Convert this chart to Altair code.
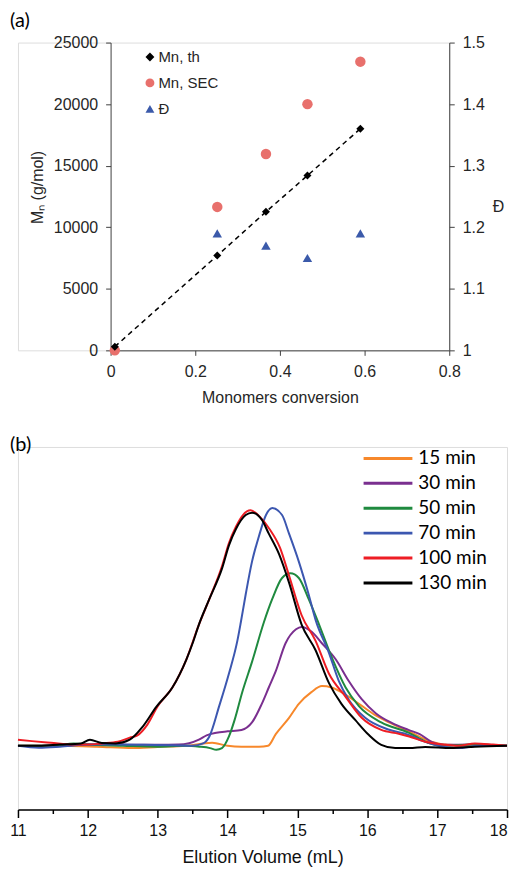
import altair as alt
import pandas as pd

# ---------------- panel (a) data ----------------
CONV_TH = [0.01, 0.252, 0.367, 0.465, 0.59]
MN_TH = [300, 7700, 11250, 14200, 18000]
CONV_SEC = [0.01, 0.252, 0.367, 0.465, 0.59]
MN_SEC = [0, 11650, 15950, 20000, 23450]
CONV_D = [0.252, 0.367, 0.465, 0.59]
DISP = [1.19, 1.17, 1.15, 1.19]
SERIES_A = ["Mn, th", "Mn, SEC", "Đ"]
COLORS_A = ["#000000", "#e8706c", "#3b5aaa"]
SHAPES_A = ["diamond", "circle", "triangle-up"]
X_TICKS_A = [0, 0.2, 0.4, 0.6, 0.8]
Y_TICKS_L = [0, 5000, 10000, 15000, 20000, 25000]
Y_TICKS_R = [1, 1.1, 1.2, 1.3, 1.4, 1.5]

# ---------------- panel (b) data ----------------
V_15 = [11.0, 11.5, 12.13, 12.64, 13.0, 13.4, 13.78, 14.0, 14.2, 14.45, 14.58, 14.69, 14.88,
        15.02, 15.2, 15.35, 15.49, 15.63, 15.88, 16.12, 16.35, 16.63, 16.92, 17.1, 17.5, 18.0]
I_15 = [0.0, 0.0, -0.004, -0.01, -0.005, 0.0, 0.013, 0.0, -0.004, -0.004, 0.0, 0.05, 0.12,
        0.18, 0.23, 0.256, 0.25, 0.23, 0.18, 0.13, 0.095, 0.056, 0.017, 0.005, 0.0, 0.0]

V_30 = [11.0, 11.5, 12.0, 12.5, 13.0, 13.3, 13.59, 13.7, 13.84, 14.0, 14.2, 14.35, 14.49, 14.59,
        14.69, 14.83, 14.98, 15.06, 15.2, 15.35, 15.55, 15.73, 15.92, 16.12, 16.35, 16.59, 16.75,
        16.92, 17.1, 17.5, 18.0]
I_30 = [0.0, 0.0, 0.005, 0.005, 0.004, 0.005, 0.026, 0.045, 0.056, 0.062, 0.068, 0.10, 0.18, 0.25,
        0.32, 0.44, 0.50, 0.51, 0.49, 0.44, 0.37, 0.28, 0.20, 0.14, 0.098, 0.068, 0.05,
        0.017, 0.004, 0.005, 0.0]

V_50 = [11.0, 11.5, 11.8, 12.0, 12.5, 13.0, 13.4, 13.6, 13.75, 13.84, 13.92, 14.02, 14.1, 14.21,
        14.35, 14.52, 14.64, 14.78, 14.9, 15.02, 15.16, 15.31, 15.49, 15.69, 15.88, 16.2, 16.59,
        16.73, 16.87, 17.1, 17.5, 18.0]
I_50 = [0.0, 0.0, 0.01, 0.005, 0.0, -0.004, 0.0, -0.004, -0.01, -0.017, -0.01, 0.04, 0.11, 0.23,
        0.36, 0.53, 0.63, 0.72, 0.74, 0.72, 0.63, 0.52, 0.38, 0.25, 0.17, 0.10, 0.056,
        0.034, 0.013, 0.0, 0.005, 0.0]

V_70 = [11.0, 11.3, 11.6, 12.0, 12.4, 12.8, 13.2, 13.5, 13.65, 13.74, 13.88, 14.02, 14.14, 14.19,
        14.26, 14.35, 14.45, 14.55, 14.64, 14.78, 14.88, 15.02, 15.16, 15.26, 15.45, 15.59, 15.73,
        15.97, 16.3, 16.59, 16.8, 17.02, 17.3, 17.6, 18.0]
I_70 = [0.0, -0.008, -0.004, 0.005, 0.005, 0.004, 0.002, 0.0, 0.01, 0.04, 0.17, 0.31, 0.45, 0.53,
        0.65, 0.79, 0.90, 0.99, 1.02, 0.99, 0.91, 0.79, 0.65, 0.54, 0.40, 0.28, 0.20,
        0.12, 0.07, 0.047, 0.02, 0.0, -0.01, 0.0, 0.0]

V_100 = [11.0, 11.2, 11.47, 11.8, 12.0, 12.2, 12.43, 12.6, 12.71, 12.85, 13.0, 13.21, 13.41, 13.59,
         13.74, 13.92, 14.02, 14.12, 14.22, 14.33, 14.47, 14.6, 14.75, 14.88, 15.06, 15.26, 15.45,
         15.69, 15.92, 16.2, 16.45, 16.6, 16.83, 17.12, 17.3, 17.54, 17.8, 18.0]
I_100 = [0.026, 0.02, 0.013, 0.005, 0.005, 0.01, 0.017, 0.035, 0.045, 0.09, 0.17, 0.25, 0.37, 0.52,
         0.63, 0.77, 0.87, 0.94, 0.99, 1.01, 0.98, 0.93, 0.85, 0.73, 0.56, 0.45, 0.31,
         0.21, 0.12, 0.068, 0.052, 0.04, 0.017, 0.004, 0.0, 0.01, 0.005, 0.0]

V_130 = [11.0, 11.3, 11.6, 11.9, 12.03, 12.2, 12.4, 12.6, 12.78, 12.98, 13.21, 13.41, 13.5, 13.59,
         13.74, 13.92, 14.02, 14.12, 14.26, 14.35, 14.49, 14.59, 14.74, 14.88, 15.06, 15.26, 15.45,
         15.63, 15.83, 16.02, 16.2, 16.4, 16.6, 16.83, 17.2, 17.54, 18.0]
I_130 = [0.0, 0.0, 0.005, 0.01, 0.026, 0.012, 0.01, 0.026, 0.08, 0.167, 0.25, 0.37, 0.44, 0.52,
         0.63, 0.76, 0.86, 0.93, 0.99, 1.0, 0.97, 0.91, 0.82, 0.70, 0.52, 0.41, 0.27,
         0.18, 0.11, 0.047, 0.004, -0.01, -0.01, -0.005, -0.01, -0.004, 0.0]

LABELS_B = ["15 min", "30 min", "50 min", "70 min", "100 min", "130 min"]
COLORS_B = ["#f7882b", "#7a2f8f", "#1f8a3f", "#3c57b0", "#ee1d24", "#000000"]
X_TICKS_B = [11, 11.5, 12, 12.5, 13, 13.5, 14, 14.5, 15, 15.5, 16, 16.5, 17, 17.5, 18]

AX_FONT = "Liberation Sans"
TXT = "#262626"
AXC = "#404040"

# ---------------- panel (a) ----------------
df_th = pd.DataFrame({"conv": CONV_TH, "val": MN_TH, "ser": SERIES_A[0]})
df_sec = pd.DataFrame({"conv": CONV_SEC, "val": MN_SEC, "ser": SERIES_A[1]})
df_d = pd.DataFrame({"conv": CONV_D, "val": DISP, "ser": SERIES_A[2]})

W_A = 433      # panel (a) group width (shares its left edge with panel (b))
SHIFT = 93     # where panel (a)'s plotting range starts inside that group

x_a = alt.X(
    "conv:Q",
    scale=alt.Scale(domain=[0, 0.8], nice=False, zero=False, range=[SHIFT, W_A]),
    axis=alt.Axis(values=X_TICKS_A, format="~g", title="Monomers conversion", grid=False,
                  labelFontSize=16, titleFontSize=16, labelFont=AX_FONT, titleFont=AX_FONT,
                  titleFontWeight="normal", labelColor=TXT, titleColor=TXT,
                  domainColor=AXC, tickColor=AXC, tickSize=5, labelPadding=8,
                  titlePadding=10, labelFlush=False, titleX=(SHIFT + W_A) / 2),
)
y_left = alt.Y(
    "val:Q",
    scale=alt.Scale(domain=[0, 25000], nice=False),
    axis=alt.Axis(orient="left", values=Y_TICKS_L, format="d", title="Mₙ (g/mol)", grid=False,
                  labelFontSize=16, titleFontSize=16, labelFont=AX_FONT, titleFont=AX_FONT,
                  titleFontWeight="normal", labelColor=TXT, titleColor=TXT,
                  domainColor=AXC, tickColor=AXC, tickSize=5, labelPadding=8,
                  titlePadding=8, titleY=145, labelFlush=False, offset=-SHIFT),
)
y_right = alt.Y(
    "val:Q",
    scale=alt.Scale(domain=[1, 1.5], nice=False, zero=False),
    axis=alt.Axis(orient="right", values=Y_TICKS_R, format="~g", title="Đ", grid=False,
                  labelFontSize=16, titleFontSize=16, labelFont=AX_FONT, titleFont=AX_FONT,
                  titleFontWeight="normal", labelColor=TXT, titleColor=TXT,
                  domainColor=AXC, tickColor=AXC, tickSize=5, labelPadding=8,
                  titlePadding=8, titleAngle=0, titleAlign="left", titleBaseline="middle",
                  titleY=165, labelFlush=False),
)
leg_a = alt.Legend(title=None, orient="none", legendX=SHIFT + 32, legendY=7, labelFont=AX_FONT,
                   labelFontSize=15, labelColor=TXT, symbolSize=80, rowPadding=10,
                   labelOffset=1, padding=0)
color_a = alt.Color("ser:N", scale=alt.Scale(domain=SERIES_A, range=COLORS_A), legend=leg_a)
shape_a = alt.Shape("ser:N", scale=alt.Scale(domain=SERIES_A, range=SHAPES_A), legend=leg_a)

line_th = alt.Chart(df_th).mark_line(color="black", strokeDash=[5, 4], strokeWidth=1.5).encode(
    x=x_a, y=y_left)
pts_sec = alt.Chart(df_sec).mark_point(filled=True, size=110, opacity=1).encode(
    x=x_a, y=y_left, color=color_a, shape=shape_a)
pts_th = alt.Chart(df_th).mark_point(filled=True, size=65, opacity=1).encode(
    x=x_a, y=y_left, color=color_a, shape=shape_a)
left = alt.layer(line_th, pts_sec, pts_th)
right = alt.Chart(df_d).mark_point(filled=True, size=90, opacity=1).encode(
    x=x_a, y=y_right, color=color_a, shape=shape_a)

chart_a = alt.layer(left, right).resolve_scale(y="independent").properties(
    width=W_A, height=309,
    title=alt.TitleParams("(a)", anchor="start", frame="group", dx=-8, offset=4,
                          fontSize=20, font="Lato", fontWeight="normal", color="#000000"),
)

# ---------------- panel (b) ----------------
curves = [(V_15, I_15), (V_30, I_30), (V_50, I_50), (V_70, I_70), (V_100, I_100), (V_130, I_130)]
frames = []
for k, (lab, (vv, ii)) in enumerate(zip(LABELS_B, curves)):
    frames.append(pd.DataFrame({"v": vv, "I": ii, "curve": lab, "k": k}))
df_b = pd.concat(frames, ignore_index=True)

x_b = alt.X(
    "v:Q",
    scale=alt.Scale(domain=[11, 18], nice=False, zero=False),
    axis=alt.Axis(values=X_TICKS_B,
                  labelExpr="datum.value % 1 === 0 ? format(datum.value, 'd') : ''",
                  title="Elution Volume (mL)", grid=False,
                  labelFontSize=16, titleFontSize=18, labelFont=AX_FONT, titleFont=AX_FONT,
                  titleFontWeight="normal", labelColor="#111111", titleColor="#111111",
                  domainColor="#000000", tickColor="#000000", domainWidth=1.5, tickWidth=1.5,
                  tickSize={"condition": {"test": "datum.value % 1 === 0", "value": 8}, "value": 4},
                  labelAlign={"condition": {"test": "datum.value >= 18", "value": "right"},
                              "value": "center"},
                  labelPadding=5, titlePadding=10, labelFlush=False),
)
y_b = alt.Y("I:Q", scale=alt.Scale(domain=[-0.2735, 1.282], nice=False, zero=False), axis=None)
color_b = alt.Color(
    "curve:N", scale=alt.Scale(domain=LABELS_B, range=COLORS_B),
    legend=alt.Legend(title=None, orient="none", legendX=360, legendY=0,
                      symbolType="M-2.45,0H2.45", symbolSize=400, symbolStrokeWidth=3,
                      labelFont="Lato", labelFontSize=19, labelColor="#000000",
                      rowPadding=3, labelOffset=19, padding=0),
)

chart_b = alt.Chart(df_b).mark_line(strokeWidth=2, interpolate="monotone").encode(
    x=x_b, y=y_b, color=color_b, order=alt.Order("v:Q"),
).properties(
    width=491, height=364,
    title=alt.TitleParams("(b)", anchor="start", frame="group", dx=-8, offset=-8,
                          fontSize=20, font="Lato", fontWeight="normal", color="#000000"),
)

chart = alt.vconcat(chart_a, chart_b, spacing=28).resolve_scale(
    color="independent", shape="independent", x="independent", y="independent"
).properties(
    padding={"left": 1, "top": 0, "right": 0, "bottom": 0}
).configure_view(stroke=None).configure(background="white")

chart.save("out.html", embed_options={"renderer": "svg", "actions": False})
